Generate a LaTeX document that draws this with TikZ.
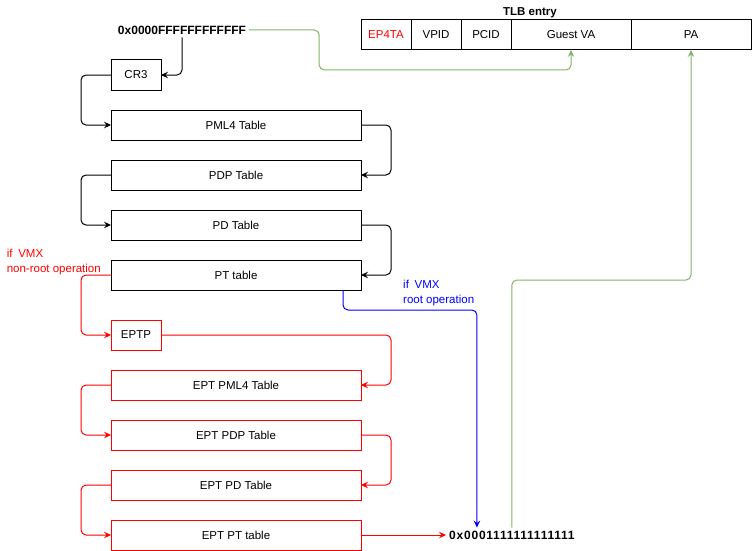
\documentclass[tikz,border=0pt]{standalone}
\usepackage{fontspec}
\setmainfont{Liberation Sans}
\usetikzlibrary{arrows.meta,positioning}
\definecolor{vmxred}{HTML}{FF0000}
\definecolor{vmxblue}{HTML}{0000FF}
\definecolor{tlbgreen}{HTML}{82B366}
\tikzset{
  base/.style={draw=black,line width=1pt,outer sep=0pt,inner sep=2pt,minimum height=30pt,font=\fontsize{11.5}{14}\selectfont},
  regbox/.style={base,minimum width=50pt},
  tablebox/.style={base,minimum width=250pt},
  eptreg/.style={regbox,draw=vmxred},
  eptbox/.style={tablebox,draw=vmxred},
  cell/.style={base,minimum width=50pt},
  widecell/.style={base,minimum width=120pt},
  hexval/.style={font=\fontsize{12}{14}\selectfont\bfseries,inner sep=3pt},
  note/.style={font=\fontsize{11.5}{15}\selectfont,align=left,inner sep=1pt},
  flow/.style={-{Stealth[length=7pt,width=6.5pt,inset=2.5pt]},line width=1pt,rounded corners=5pt,draw=black},
  eptflow/.style={flow,draw=vmxred},
  rootflow/.style={flow,draw=vmxblue},
  tlbflow/.style={flow,draw=tlbgreen}
}
\begin{document}
\begin{tikzpicture}[x=1pt,y=-1pt,node distance=20pt]
\useasboundingbox (0,0) rectangle (752,551);
% guest page walk
\node[hexval] (hexa) at (182,30) {0x0000FFFFFFFFFFFF};
\node[regbox] (cr3) at (136,75) {CR3};
\node[tablebox,below=20pt of cr3.south west,anchor=north west] (pml4) {PML4 Table};
\node[tablebox,below=of pml4] (pdp) {PDP Table};
\node[tablebox,below=of pdp] (pd) {PD Table};
\node[tablebox,below=of pd] (pt) {PT table};
% EPT walk
\node[eptreg,below=30pt of pt.south west,anchor=north west] (eptp) {EPTP};
\node[eptbox,below=20pt of eptp.south west,anchor=north west] (eptpml4) {EPT PML4 Table};
\node[eptbox,below=of eptpml4] (eptpdp) {EPT PDP Table};
\node[eptbox,below=of eptpdp] (eptpd) {EPT PD Table};
\node[eptbox,below=of eptpd] (eptpt) {EPT PT table};
\node[hexval,right=85pt of eptpt] (hexb) {\addfontfeature{LetterSpace=6.5}0x0001111111111111};
% TLB entry
\node[cell,text=vmxred] (ep4ta) at (386,35) {EP4TA};
\node[cell,right=0pt of ep4ta] (vpid) {VPID};
\node[cell,right=0pt of vpid] (pcid) {PCID};
\node[widecell,right=0pt of pcid] (guestva) {Guest VA};
\node[widecell,right=0pt of guestva] (pa) {PA};
\node[hexval,font=\fontsize{11.5}{14}\selectfont\bfseries,above=-1pt of guestva.north west,xshift=19pt] (tlbtitle) {TLB entry};
% labels
\node[note,text=vmxred,above left=-1pt and 9pt of pt.west,anchor=south east] (nonroot) {if\enspace VMX\\non-root operation};
\node[note,text=vmxblue,anchor=north west] (root) at ([xshift=41pt,yshift=-4pt]pt.east) {if\enspace VMX\\root operation};

\draw[flow] (hexa.south) |- (cr3.east);
\draw[flow] (cr3.west) -- ++(-30,0) |- (pml4.west);
\draw[flow] (pml4.east) -- ++(30,0) |- (pdp.east);
\draw[flow] (pdp.west) -- ++(-30,0) |- (pd.west);
\draw[flow] (pd.east) -- ++(30,0) |- (pt.east);
\draw[eptflow] (pt.west) -- ++(-30,0) |- (eptp.west);
\draw[eptflow] (eptp.east) -| ([xshift=30pt,yshift=10pt]eptpml4.east) |- (eptpml4.east);
\draw[eptflow] (eptpml4.west) -- ++(-30,0) |- (eptpdp.west);
\draw[eptflow] (eptpdp.east) -- ++(30,0) |- (eptpd.east);
\draw[eptflow] (eptpd.west) -- ++(-30,0) |- (eptpt.west);
\draw[eptflow] (eptpt.east) -- (hexb.west);
\draw[rootflow] ([xshift=-18pt]pt.south east) -- ++(0,20) -| ([xshift=-35pt]hexb.north);
\draw[tlbflow] (hexa.east) -- ++(70,0) |- ([yshift=-20pt]guestva.south) -- (guestva.south);
\draw[tlbflow] (hexb.north) |- ([yshift=-230pt]pa.south) -- (pa.south);
\end{tikzpicture}
\end{document}
